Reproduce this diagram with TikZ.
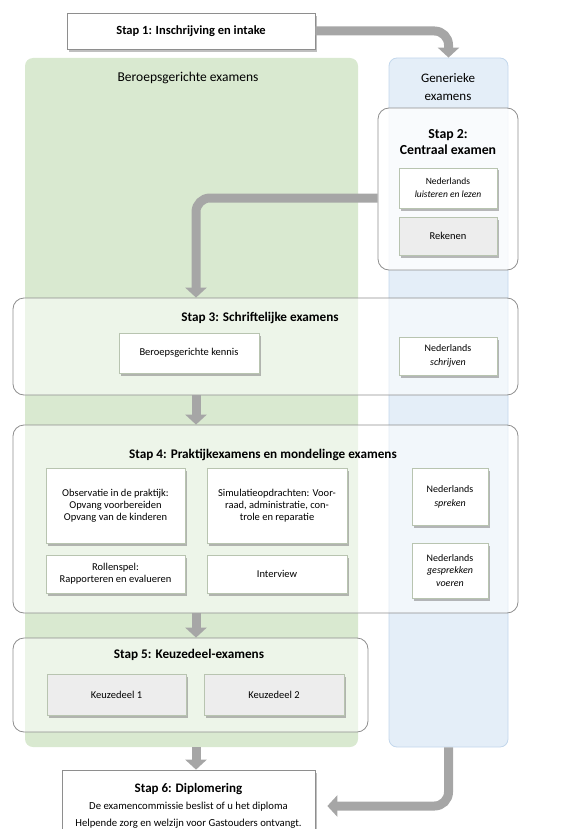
\documentclass[tikz,border=0pt]{standalone}
\usepackage{fontspec}
\setmainfont{Carlito}
\usetikzlibrary{arrows.meta,shadows,calc}
\definecolor{greenbg}{HTML}{D9E9D0}
\definecolor{bluebg}{HTML}{E4EEF8}
\definecolor{blueline}{HTML}{C3D7EC}
\definecolor{arrowgray}{HTML}{A6A6A6}
\definecolor{boxline}{HTML}{8E8E8E}
\definecolor{itemline}{HTML}{B8C4B0}
\begin{document}
\begin{tikzpicture}[x=1pt,y=-1pt,
  panel/.style={rounded corners=8pt, inner sep=0pt},
  stepbox/.style={draw=boxline, line width=0.8pt, rounded corners=11pt, fill=white, fill opacity=0.55, inner sep=0pt},
  itembox/.style={draw=itemline, line width=0.6pt, fill=white, inner sep=2pt, align=center,
    font=\fontsize{10.5}{12}\selectfont,
    drop shadow={shadow xshift=2pt, shadow yshift=-2.5pt, fill=black!50, opacity=0.55}},
  graybox/.style={itembox, fill=black!7},
  headbox/.style={draw=boxline, line width=0.7pt, fill=white, inner sep=2pt, align=center,
    drop shadow={shadow xshift=1.5pt, shadow yshift=-3pt, fill=black!50, opacity=0.5}},
  steptitle/.style={font=\fontsize{13.2}{15}\selectfont\bfseries, inner sep=0pt},
  bigarrow/.style={draw=arrowgray, line width=9pt, -{Triangle[width=21pt,length=10pt]}, rounded corners=14pt}
]
\useasboundingbox (0,0) rectangle (587,829);

% panels
\node[panel, fill=greenbg, minimum width=333pt, minimum height=689pt] (green) at (191.5,402.5) {};
\node[panel, fill=bluebg, draw=blueline, line width=0.8pt, minimum width=119pt, minimum height=689pt] (blue) at (448.5,402.5) {};
\node[font=\fontsize{13.5}{15}\selectfont, inner sep=0pt] (bertitle) at (188,78) {Beroepsgerichte examens};
\node[font=\fontsize{13}{18}\selectfont, align=center, inner sep=0pt] (gentitle) at (448,87) {Generieke\\examens};

% step 1
\node[headbox, minimum width=248pt, minimum height=36pt, font=\fontsize{12.5}{14}\selectfont\bfseries] (s1) at (191,31) {Stap 1: Inschrijving en intake};

% step 2
\node[stepbox, fill opacity=0.8, minimum width=140pt, minimum height=162pt] (s2) at (448,189) {};
\node[font=\fontsize{13.8}{16}\selectfont\bfseries, align=center, inner sep=0pt] (s2t) at (448,142.5) {Stap 2:\\Centraal examen};
\node[itembox, font=\fontsize{9.5}{13}\selectfont, minimum width=98pt, minimum height=40pt] (nll) at (448,188) {Nederlands\\\textit{luisteren en lezen}};
\node[graybox, minimum width=98pt, minimum height=38pt] (rek) at (448,236) {Rekenen};

% step 3
\node[stepbox, minimum width=505pt, minimum height=97pt] (s3) at (265.5,346.5) {};
\node[steptitle] (s3t) at (260,318) {Stap 3: Schriftelijke examens};
\node[itembox, minimum width=140pt, minimum height=40pt] (bk) at (189,353) {Beroepsgerichte kennis};
\node[itembox, font=\fontsize{10}{14}\selectfont, minimum width=98pt, minimum height=38pt] (nls) at (448,356) {Nederlands\\\textit{schrijven}};

% step 4
\node[stepbox, minimum width=505pt, minimum height=188pt] (s4) at (265.5,519) {};
\node[steptitle] (s4t) at (263,455) {Stap 4: Praktijkexamens en mondelinge examens};
\node[itembox, minimum width=139pt, minimum height=75pt] (obs) at (115.5,505.5) {Observatie in de praktijk:\\Opvang voorbereiden\\Opvang van de kinderen};
\node[itembox, minimum width=140pt, minimum height=75pt] (sim) at (277,505.5) {Simulatieopdrachten: Voor-\\raad, administratie, con-\\trole en reparatie};
\node[itembox, minimum width=139pt, minimum height=38pt] (rol) at (115.5,574) {Rollenspel:\\Rapporteren en evalueren};
\node[itembox, minimum width=140pt, minimum height=38pt] (int) at (277,574) {Interview};
\node[itembox, font=\fontsize{10}{14}\selectfont, minimum width=76pt, minimum height=57pt] (nlsp) at (450,496.5) {Nederlands\\\textit{spreken}};
\node[itembox, font=\fontsize{10}{12.5}\selectfont, minimum width=76pt, minimum height=55pt] (nlg) at (450,570.5) {Nederlands\\\textit{gesprekken}\\\textit{voeren}};

% step 5
\node[stepbox, minimum width=355pt, minimum height=94pt] (s5) at (190.5,685) {};
\node[steptitle] (s5t) at (189,655) {Stap 5: Keuzedeel-examens};
\node[graybox, minimum width=139pt, minimum height=41pt] (k1) at (116.5,694.5) {Keuzedeel 1};
\node[graybox, minimum width=140pt, minimum height=41pt] (k2) at (274,694.5) {Keuzedeel 2};

% step 6
\node[headbox, minimum width=253pt, minimum height=72pt, font=\fontsize{10.7}{17}\selectfont] (s6) at (188.5,806) {{\fontsize{13}{15}\selectfont\bfseries Stap 6: Diplomering}\\De examencommissie beslist of u het diploma\\Helpende zorg en welzijn voor Gastouders ontvangt.};

% arrows
\coordinate (col) at (196,0);
\draw[bigarrow] (s1.east) -| (blue.north);
\draw[bigarrow] ($(s2.west)+(0,9)$) -| (s3.north -| col);
\draw[bigarrow] (s3.south -| col) -- (s4.north -| col);
\draw[bigarrow] (s4.south -| col) -- (s5.north -| col);
\draw[bigarrow] (green.south -| col) -- (s6.north -| col);
\draw[bigarrow] (blue.south) |- ($(s6.east)+(12,0)$);
\end{tikzpicture}
\end{document}
